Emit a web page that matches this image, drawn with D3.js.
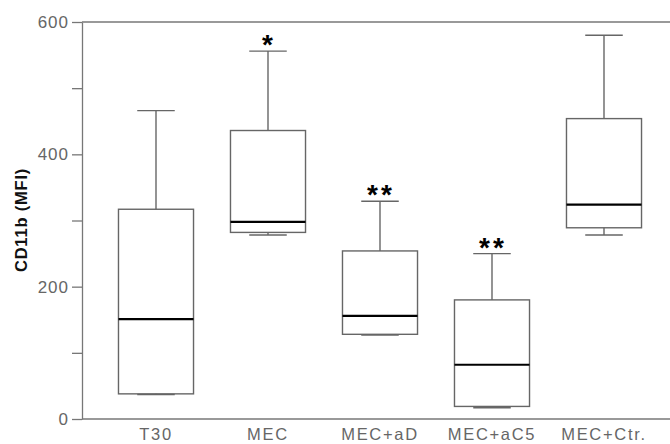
<!DOCTYPE html>
<html>
<head>
<meta charset="utf-8">
<script src="https://cdn.jsdelivr.net/npm/d3@7"></script>
<style>
  body { margin: 0; background: #fff; }
  svg { display: block; }
</style>
</head>
<body>
<svg id="chart"></svg>
<script>
let categories = ["T30", "MEC", "MEC+aD", "MEC+aC5", "MEC+Ctr."];
let mins = [37, 278, 127, 17, 278];
let q1s = [38, 282, 128, 19, 289];
let medians = [151, 298, 156, 82, 324];
let q3s = [317, 436, 254, 180, 454];
let maxs = [466, 556, 329, 250, 580];
let stars = ["", "*", "**", "**", ""];
let yTicks = [0, 100, 200, 300, 400, 500, 600];

let store = {};

function loadData() {
  store.boxes = categories.map((c, i) => ({
    "name": c,
    "min": mins[i],
    "q1": q1s[i],
    "median": medians[i],
    "q3": q3s[i],
    "max": maxs[i],
    "star": stars[i]
  }));
  return Promise.resolve(store);
}

function getConfig() {
  let width = 670;
  let height = 444;
  let margin = {
    top: 22,
    bottom: 25,
    left: 82,
    right: 0
  }
  let container = d3.select("#chart")
  container
    .attr("width", width)
    .attr("height", height)
  return { width, height, margin, container }
}

function getScales(config) {
  let { height, margin } = config;
  let xScale = d3.scaleBand()
    .domain(categories)
    .range([100, 660])
    .paddingInner(0.33)
    .paddingOuter(0.165);
  let yScale = d3.scaleLinear()
    .domain([0, 600])
    .range([height - margin.bottom, margin.top]);
  return { xScale, yScale }
}

function drawAxes(config, scales) {
  let { container, width, margin } = config;
  let { xScale, yScale } = scales;
  let grey = "#777";

  // y axis
  let yAxis = d3.axisLeft(yScale)
    .tickValues(yTicks)
    .tickSizeInner(10)
    .tickSizeOuter(0)
    .tickPadding(3)
    .tickFormat(d => d % 200 === 0 ? d : "");
  let yg = container.append("g")
    .attr("transform", `translate(${margin.left},0)`)
    .call(yAxis);
  yg.selectAll("path, line").attr("stroke", grey).attr("stroke-width", 1.3);
  yg.selectAll("text")
    .attr("fill", "#666")
    .attr("font-family", "Liberation Sans, Arial, sans-serif")
    .attr("font-size", 17)
    .attr("letter-spacing", 1);

  // frame lines top and bottom
  [0, 600].forEach(v => {
    container.append("line")
      .attr("x1", margin.left)
      .attr("x2", width)
      .attr("y1", yScale(v))
      .attr("y2", yScale(v))
      .attr("stroke", grey)
      .attr("stroke-width", 1.3);
  });

  // x axis labels
  let xAxis = d3.axisBottom(xScale).tickSize(0).tickPadding(9);
  let xg = container.append("g")
    .attr("transform", `translate(0,${yScale(0)})`)
    .call(xAxis);
  xg.select(".domain").remove();
  xg.selectAll("text")
    .attr("fill", "#666")
    .attr("font-family", "Liberation Sans, Arial, sans-serif")
    .attr("font-size", 16.5)
    .attr("letter-spacing", 1.7);

  // y label
  container.append("text")
    .attr("transform", `translate(27,220) rotate(-90)`)
    .attr("text-anchor", "middle")
    .attr("font-family", "Liberation Sans, Arial, sans-serif")
    .attr("font-weight", "bold")
    .attr("font-size", 16.5)
    .attr("letter-spacing", 0.8)
    .attr("fill", "#111")
    .text("CD11b (MFI)");
}

function drawBoxes(config, scales, data) {
  let { container } = config;
  let { xScale, yScale } = scales;
  let bw = xScale.bandwidth();
  let line = "#666";

  let boxes = container.selectAll(".box")
    .data(data.boxes)
    .enter()
    .append("g")
    .attr("class", "box")
    .attr("transform", d => `translate(${xScale(d.name)},0)`);

  // whiskers
  boxes.append("line")
    .attr("x1", bw / 2).attr("x2", bw / 2)
    .attr("y1", d => yScale(d.q3)).attr("y2", d => yScale(d.max))
    .attr("stroke", line).attr("stroke-width", 1.4);
  boxes.append("line")
    .attr("x1", bw / 2).attr("x2", bw / 2)
    .attr("y1", d => yScale(d.q1)).attr("y2", d => yScale(d.min))
    .attr("stroke", line).attr("stroke-width", 1.4);

  // caps
  ["max", "min"].forEach(k => {
    boxes.append("line")
      .attr("x1", bw / 4).attr("x2", bw * 3 / 4)
      .attr("y1", d => yScale(d[k])).attr("y2", d => yScale(d[k]))
      .attr("stroke", line).attr("stroke-width", 1.4);
  });

  // box
  boxes.append("rect")
    .attr("x", 0)
    .attr("width", bw)
    .attr("y", d => yScale(d.q3))
    .attr("height", d => yScale(d.q1) - yScale(d.q3))
    .attr("fill", "none")
    .attr("stroke", line)
    .attr("stroke-width", 1.4);

  // median
  boxes.append("line")
    .attr("x1", 0).attr("x2", bw)
    .attr("y1", d => yScale(d.median)).attr("y2", d => yScale(d.median))
    .attr("stroke", "#000").attr("stroke-width", 2.2);

  // significance stars
  boxes.append("text")
    .attr("x", bw / 2 + 1)
    .attr("y", d => yScale(d.max) + 3)
    .attr("text-anchor", "middle")
    .attr("font-family", "Liberation Sans, Arial, sans-serif")
    .attr("font-weight", "bold")
    .attr("font-size", 28)
    .attr("letter-spacing", 3)
    .attr("fill", "#000")
    .text(d => d.star);
}

function showData(data) {
  let config = getConfig();
  let scales = getScales(config);
  drawAxes(config, scales);
  drawBoxes(config, scales, data);
}

loadData().then(showData);
</script>
</body>
</html>
